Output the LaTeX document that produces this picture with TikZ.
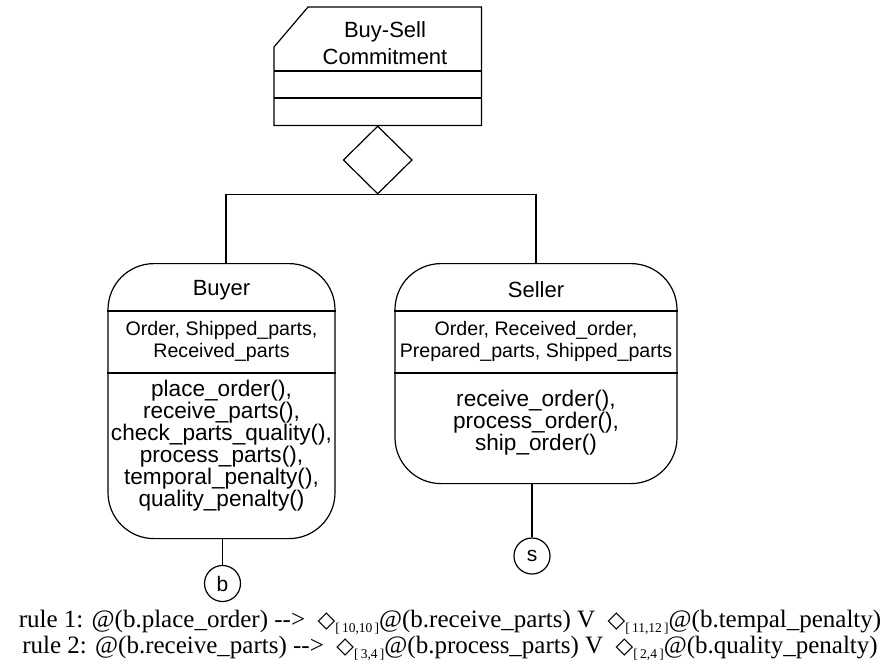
\documentclass[tikz,border=0pt]{standalone}
\usepackage{fontspec}
\setmainfont{Liberation Serif}
\newfontfamily\arial{Liberation Sans}
\newfontfamily\symfont{DejaVu Sans}
\usetikzlibrary{shapes.geometric,calc}
% temporal operator: white diamond with an interval subscript
\newcommand\evbox[1]{{\symfont\fontsize{23}{23}\selectfont ◇}\raisebox{-5pt}{\fontsize{13.5}{13.5}\selectfont[\,#1\,]}}
\tikzset{
  line/.style={draw=black, line width=1.2pt},
  objbox/.style={line, rounded corners=46, inner sep=0},
  title/.style={font=\arial\fontsize{22}{27}\selectfont, align=center, inner sep=0},
  attrs/.style={font=\arial\fontsize{19.6}{22}\selectfont, align=center, inner sep=0},
  ops/.style={font=\arial\fontsize{22.6}{22}\selectfont, align=center, inner sep=0},
  port/.style={line, circle, minimum size=36, inner sep=0, font=\arial\fontsize{21}{21}\selectfont},
  ruletext/.style={font=\fontsize{25}{26}\selectfont, inner sep=0}
}
\begin{document}
\begin{tikzpicture}[x=1pt,y=-1pt]
\useasboundingbox (0,0) rectangle (895,670);

% commitment class with clipped corner
\node[minimum width=207, minimum height=118, inner sep=0, anchor=north west] (commit) at (274,7) {};
\draw[line] ($(commit.north west)+(34,0)$) -- (commit.north east) -- (commit.south east)
  -- (commit.south west) -- ($(commit.north west)+(0,40)$) -- cycle;
\draw[line] ($(commit.north west)+(0,64)$) -- ($(commit.north east)+(0,64)$);
\draw[line] ($(commit.north west)+(0,91)$) -- ($(commit.north east)+(0,91)$);
\node[title] (committitle) at (385,43.5) {Buy-Sell\\Commitment};

% aggregation diamond
\node[line, diamond, minimum width=69, minimum height=68, inner sep=0, anchor=north] (agg) at (commit.south) {};

% buyer
\node[objbox, minimum width=227, minimum height=275, anchor=north] (buyer) at (221.5,263) {};
\draw[line] ($(buyer.north west)+(0,48)$) -- ($(buyer.north east)+(0,48)$);
\draw[line] ($(buyer.north west)+(0,110)$) -- ($(buyer.north east)+(0,110)$);
\node[title] (buyername) at (221.5,290) {Buyer};
\node[attrs] (buyerattrs) at (221.5,341) {Order, Shipped\_parts,\\Received\_parts};
\node[ops] (buyerops) at (221.5,446) {place\_order(),\\receive\_parts(),\\check\_parts\_quality(),\\process\_parts(),\\temporal\_penalty(),\\quality\_penalty()};

% seller
\node[objbox, minimum width=282, minimum height=220, anchor=north] (seller) at (536,263) {};
\draw[line] ($(seller.north west)+(0,48)$) -- ($(seller.north east)+(0,48)$);
\draw[line] ($(seller.north west)+(0,110)$) -- ($(seller.north east)+(0,110)$);
\node[title] (sellername) at (536,290) {Seller};
\node[attrs] (sellerattrs) at (536,341) {Order, Received\_order,\\Prepared\_parts, Shipped\_parts};
\node[ops] (sellerops) at (536,423) {receive\_order(),\\process\_order(),\\ship\_order()};

% connectors
\draw[line] (agg.south) -| ([xshift=4.5]buyer.north);
\draw[line] (agg.south) -| (seller.north);

% ports
\node[port] (b) at (222.5,583.5) {b};
\node[port] (s) at (532,556) {s};
\draw[line] (b.north) -- (b.north |- buyer.south);
\draw[line] (s.north) -- (s.north |- seller.south);

% rules
\node[ruletext] (rule1) at (450,622) {rule 1: @(b.place\_order) -{}-{}>\ \ \evbox{10,10}@(b.receive\_parts) V\ \ \evbox{11,12}@(b.tempal\_penalty)};
\node[ruletext] (rule2) at (450,648) {rule 2: @(b.receive\_parts) -{}-{}>\ \ \evbox{3,4}@(b.process\_parts) V\ \ \evbox{2,4}@(b.quality\_penalty)};
\end{tikzpicture}
\end{document}
